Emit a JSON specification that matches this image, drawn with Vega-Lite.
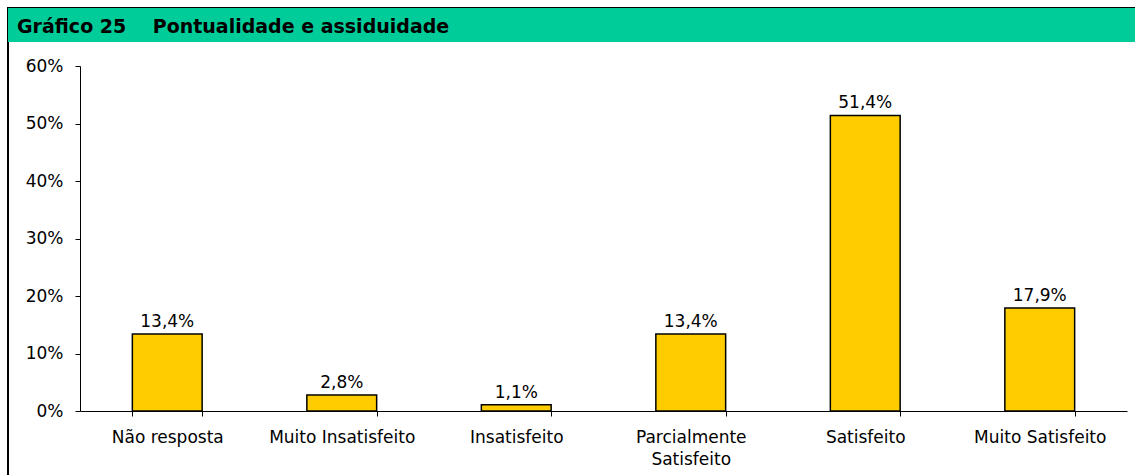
{
  "$schema": "https://vega.github.io/schema/vega-lite/v6.json",
  "width": 1129,
  "height": 469,
  "autosize": {"type": "none"},
  "padding": {"left": 8, "top": 8, "right": -2, "bottom": -2},
  "background": "white",
  "config": {
    "locale": {"number": {"decimal": ",", "thousands": ".", "grouping": [3], "currency": ["", " €"]}},
    "view": {"stroke": "#000", "strokeWidth": 2},
    "font": "DejaVu Sans",
    "axis": {
      "grid": false,
      "domainColor": "#000",
      "tickColor": "#000",
      "labelColor": "#000",
      "labelFont": "DejaVu Sans",
      "labelFontSize": 17,
      "tickSize": 5,
      "domainWidth": 1,
      "tickWidth": 1
    }
  },
  "title": {
    "text": "Gráfico 25\u00a0\u00a0\u00a0\u00a0Pontualidade e assiduidade",
    "anchor": "start",
    "frame": "group",
    "orient": "top",
    "offset": -44,
    "dx": 9,
    "zindex": 1,
    "baseline": "alphabetic",
    "font": "DejaVu Sans",
    "fontSize": 19,
    "fontWeight": "bold",
    "color": "#000"
  },
  "layer": [
    {
      "data": {"values": [{"faixa": "titulo"}]},
      "mark": {"type": "rect", "color": "#00CC99", "clip": false},
      "encoding": {
        "y": {"datum": 0.7009, "type": "quantitative"},
        "y2": {"datum": 0.6417}
      }
    },
    {
      "data": {"values": [
        {"categoria": "Não resposta", "valor": 0.134},
        {"categoria": "Muito Insatisfeito", "valor": 0.028},
        {"categoria": "Insatisfeito", "valor": 0.011},
        {"categoria": "Parcialmente Satisfeito", "valor": 0.134},
        {"categoria": "Satisfeito", "valor": 0.514},
        {"categoria": "Muito Satisfeito", "valor": 0.179}
      ]},
      "encoding": {
        "x": {
          "field": "categoria",
          "type": "nominal",
          "sort": null,
          "scale": {"range": [72, 1119], "paddingInner": 0.6, "paddingOuter": 0.3},
          "axis": {
            "title": null,
            "labelAngle": 0,
            "tickBand": "extent",
            "offset": -66,
            "labelPadding": 13,
            "labelBaseline": "top",
            "labelLineHeight": 22,
            "labelExpr": "datum.value == 'Parcialmente Satisfeito' ? ['Parcialmente', 'Satisfeito'] : datum.label"
          }
        },
        "y": {
          "field": "valor",
          "type": "quantitative",
          "scale": {"domain": [0, 0.6], "range": [403, 58], "nice": false},
          "axis": {
            "title": null,
            "values": [0, 0.1, 0.2, 0.3, 0.4, 0.5, 0.6],
            "format": ".0%",
            "offset": -72,
            "labelPadding": 12
          }
        }
      },
      "layer": [
        {"mark": {"type": "bar", "fill": "#FFCC00", "stroke": "#000", "strokeWidth": 1.5}},
        {
          "mark": {"type": "text", "baseline": "alphabetic", "dy": -7, "fontSize": 17, "color": "#000"},
          "encoding": {"text": {"field": "valor", "type": "quantitative", "format": ".1%"}}
        }
      ]
    }
  ]
}
